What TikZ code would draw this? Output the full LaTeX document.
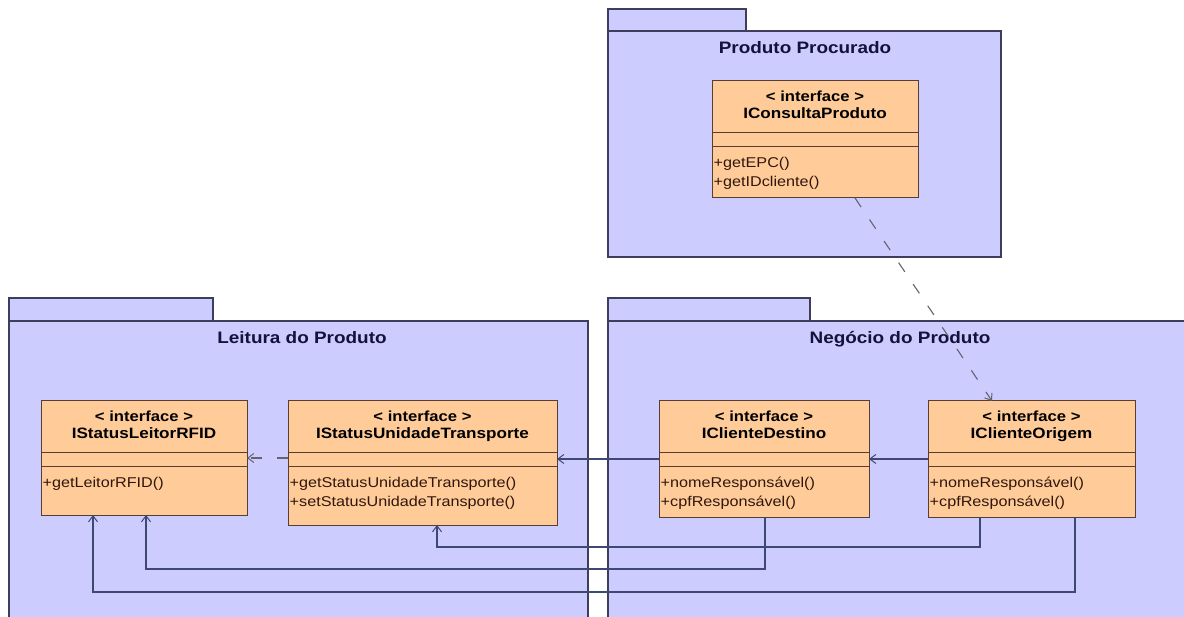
\documentclass[tikz,border=0pt]{standalone}
\usepackage{fontspec}
\setmainfont{Liberation Sans}
\newfontfamily\uf[FakeStretch=1.14]{Liberation Sans}
\usetikzlibrary{arrows.meta}
\definecolor{pkgfill}{RGB}{204,204,255}
\definecolor{pkgline}{RGB}{62,62,92}
\definecolor{clsfill}{RGB}{255,204,153}
\definecolor{clsline}{RGB}{88,62,50}
\definecolor{conncol}{RGB}{62,72,112}
\definecolor{depcol}{RGB}{100,100,110}
\definecolor{pkgtext}{RGB}{18,18,58}
\definecolor{mtext}{RGB}{48,22,12}
\tikzset{
  pkg/.style={draw=pkgline, fill=pkgfill, line width=1.1pt},
  pkgtitle/.style={font=\uf\fontsize{16.6}{19}\selectfont\bfseries, text=pkgtext, inner sep=0pt, anchor=base},
  clsbox/.style={draw=clsline, fill=clsfill, line width=1pt, inner sep=0pt, outer sep=0pt},
  divline/.style={draw=clsline, line width=1pt},
  stereo/.style={font=\uf\fontsize{14.6}{17}\selectfont\bfseries, text=black, inner sep=0pt, anchor=base},
  clsname/.style={font=\uf\fontsize{15}{17}\selectfont\bfseries, text=black, inner sep=0pt, anchor=base},
  meth/.style={font=\uf\fontsize{14.2}{17}\selectfont, text=mtext, inner sep=0pt, anchor=base west},
  conn/.style={draw=conncol, line width=1.1pt, -{Straight Barb[length=6pt,width=9pt,line width=1pt]}},
  dep/.style={draw=depcol, line width=1.1pt, dash pattern=on 11pt off 15pt, -{Straight Barb[length=6pt,width=9pt,line width=1pt]}},
}
\newcommand\UClass[8]{%
  \node[clsbox, anchor=north west, minimum width={(#4-#2)*1pt}, minimum height={(#5-#3)*1pt}] (#1) at (#2,#3) {};
  \draw[divline] (#2,#3+52) -- (#4,#3+52);
  \draw[divline] (#2,#3+66) -- (#4,#3+66);
  \node[stereo] at ({(#2+#4)/2},#3+21) {< interface >};
  \node[clsname] at ({(#2+#4)/2},#3+38) {#6};
  \node[meth] at (#2+1.5,#3+87) {#7};
  \node[meth] at (#2+1.5,#3+106) {#8};
}
\begin{document}
\begin{tikzpicture}[x=1pt,y=-1pt]
\path[use as bounding box] (0,0) rectangle (1184,617);
\clip (0,0) rectangle (1184,617);
\fill[white] (0,0) rectangle (1184,617);
% packages
\draw[pkg] (9,298) rectangle (213,321);
\draw[pkg] (9,321) rectangle (588,640);
\node[pkgtitle] (tLeitura) at (302,343.5) {Leitura do Produto};
\draw[pkg] (608,298) rectangle (810,321);
\draw[pkg] (608,321) rectangle (1200,640);
\node[pkgtitle] (tNegocio) at (900,343.5) {Negócio do Produto};
\draw[pkg] (608,9) rectangle (746,31);
\draw[pkg] (608,31) rectangle (1001,257);
\node[pkgtitle] (tProcurado) at (805,54) {Produto Procurado};
% classes
\UClass{ICP}{712}{81}{918}{198}{IConsultaProduto}{+getEPC()}{+getIDcliente()}
\UClass{ISL}{41}{401}{247}{515}{IStatusLeitorRFID}{+getLeitorRFID()}{}
\UClass{ISU}{288}{401}{557}{525}{IStatusUnidadeTransporte}{+getStatusUnidadeTransporte()}{+setStatusUnidadeTransporte()}
\UClass{ICD}{659}{401}{869}{517}{IClienteDestino}{+nomeResponsável()}{+cpfResponsável()}
\UClass{ICO}{928}{401}{1135}{517}{IClienteOrigem}{+nomeResponsável()}{+cpfResponsável()}
% bend points
\coordinate (b1) at (437,547);
\coordinate (b2) at (146,569);
\coordinate (b3) at (93,592);
% connectors
\draw[dep] (ISU.west |- ISL.east) -- (ISL.east);
\draw[conn] (ICD.west) -- (ICD.west -| ISU.east);
\draw[conn] (ICO.west) -- (ICO.west -| ICD.east);
\draw[conn] ([xshift=52pt]ICO.south west) |- (b1) -- (b1 |- ISU.south);
\draw[conn] ([xshift=106pt]ICD.south west) |- (b2) -- (b2 |- ISL.south);
\draw[conn] ([xshift=147pt]ICO.south west) |- (b3) -- (b3 |- ISL.south);
\draw[dep] ([xshift=143pt]ICP.south west) -- ([xshift=64pt]ICO.north west);
\end{tikzpicture}
\end{document}
